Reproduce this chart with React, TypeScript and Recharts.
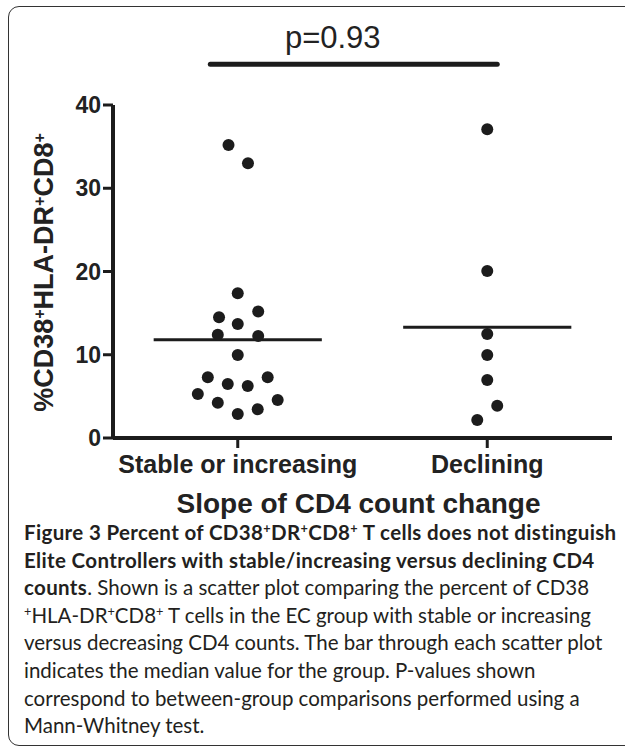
import React from 'react';
import { ScatterChart, Scatter, XAxis, YAxis, ReferenceLine, Label } from 'recharts';

const GROUPS = ['Stable or increasing', 'Declining'];

// stable / increasing group (x = jitter around category 1)
const STABLE_X = [0.963, 1.041, 1.0, 0.925, 1.082, 1.0, 0.92, 1.082, 1.0, 0.88, 1.12, 0.96, 1.04, 0.84, 1.16, 0.92, 1.08, 1.0];
const STABLE_Y = [35.2, 33.0, 17.4, 14.5, 15.2, 13.7, 12.4, 12.25, 9.97, 7.29, 7.29, 6.49, 6.25, 5.29, 4.56, 4.24, 3.44, 2.88];

// declining group (around category 2)
const DECLINING_X = [2.0, 2.0, 2.0, 2.0, 2.0, 2.04, 1.96];
const DECLINING_Y = [37.1, 20.06, 12.5, 9.97, 6.97, 3.88, 2.16];

const MEDIANS = [11.8, 13.3];
const Y_TICKS = [0, 10, 20, 30, 40];
const X_TICKS = [1, 2];
const P_VALUE = 'p=0.93';

const FONT = '"Liberation Sans", Arial, Helvetica, sans-serif';
const INK = '#1c1c1c';
const MEDIAN_HALF = 0.337;

const stableData = STABLE_Y.map((y, i) => ({ x: STABLE_X[i], y }));
const decliningData = DECLINING_Y.map((y, i) => ({ x: DECLINING_X[i], y }));

const Dot = (props: any) => <circle cx={props.cx} cy={props.cy} r={6} fill={INK} />;

const YLabel = (props: any) => {
  const vb = props.viewBox || {};
  const cx = 53;
  const cy = vb.y + vb.height / 2 + 1;
  const sup = { baselineShift: 'super', fontSize: 16 } as any;
  return (
    <text
      x={cx}
      y={cy}
      transform={`rotate(-90, ${cx}, ${cy})`}
      textAnchor="middle"
      fontFamily={FONT}
      fontWeight={700}
      fontSize={27}
      fill="#222"
    >
      %CD38<tspan style={sup}>+</tspan>HLA-DR<tspan style={sup}>+</tspan>CD8<tspan style={sup}>+</tspan>
    </text>
  );
};

const captionLine: React.CSSProperties = { whiteSpace: 'nowrap', height: 27.6 };
const bold: React.CSSProperties = { fontWeight: 700, letterSpacing: 0.35 };
const s = (t: string) => <sup style={{ fontSize: '0.62em', verticalAlign: '0.55em', lineHeight: 0 }}>{t}</sup>;

export default function App() {
  return (
    <div style={{ position: 'fixed', left: 0, top: 0, width: 625, height: 748, overflow: 'hidden', background: '#fff' }}>
      <div
        style={{
          position: 'absolute',
          left: 8,
          top: 6,
          width: 700,
          height: 740,
          boxSizing: 'border-box',
          border: '1.5px solid #333',
          borderRadius: 11,
        }}
      />
      <div style={{ position: 'absolute', left: 0, top: 0 }}>
        <ScatterChart
          width={625}
          height={560}
          margin={{ top: 105, right: 13, bottom: 82, left: 53 }}
          style={{ fontFamily: FONT }}
        >
          <XAxis
            dataKey="x"
            type="number"
            domain={[0.5, 2.5]}
            ticks={X_TICKS}
            interval={0}
            tickFormatter={(v: number) => GROUPS[v - 1]}
            height={40}
            tickSize={10}
            tickMargin={7}
            axisLine={{ stroke: INK, strokeWidth: 4 }}
            tickLine={{ stroke: INK, strokeWidth: 3 }}
            tick={{ fontSize: 25, fontWeight: 700, fill: '#222', fontFamily: FONT }}
          >
            <Label
              value="Slope of CD4 count change"
              position="bottom"
              offset={15}
              dx={-4}
              style={{ fontSize: 28, fontWeight: 700, fill: '#222', fontFamily: FONT }}
            />
          </XAxis>
          <YAxis
            dataKey="y"
            type="number"
            domain={[0, 40]}
            ticks={Y_TICKS}
            interval={0}
            width={60}
            tickSize={10}
            tickMargin={2}
            axisLine={{ stroke: INK, strokeWidth: 4 }}
            tickLine={{ stroke: INK, strokeWidth: 3 }}
            tick={{ fontSize: 23, fontWeight: 700, fill: '#222', fontFamily: FONT }}
            label={<YLabel />}
          />
          {MEDIANS.map((m, i) => (
            <ReferenceLine
              key={i}
              segment={[
                { x: i + 1 - MEDIAN_HALF, y: m },
                { x: i + 1 + MEDIAN_HALF, y: m },
              ]}
              stroke={INK}
              strokeWidth={3}
              ifOverflow="visible"
            />
          ))}
          <ReferenceLine
            segment={[
              { x: 0.89, y: 44.9 },
              { x: 2.04, y: 44.9 },
            ]}
            stroke={INK}
            strokeWidth={5}
            strokeLinecap="round"
            ifOverflow="visible"
            label={{ value: P_VALUE, position: 'top', offset: 16, dx: -21, fontSize: 31, fill: '#222', fontFamily: FONT }}
          />
          <Scatter data={stableData} shape={Dot} isAnimationActive={false} />
          <Scatter data={decliningData} shape={Dot} isAnimationActive={false} />
        </ScatterChart>
      </div>
      <div
        style={{
          position: 'absolute',
          left: 24,
          top: 519,
          fontFamily: 'Lato, "Open Sans", sans-serif',
          fontSize: 20.5,
          lineHeight: '27.6px',
          color: '#231f20',
        }}
      >
        <div style={captionLine}>
          <span style={bold}>Figure 3 Percent of CD38{s('+')}DR{s('+')}CD8{s('+')} T cells does not distinguish</span>
        </div>
        <div style={captionLine}>
          <span style={bold}>Elite Controllers with stable/increasing versus declining CD4</span>
        </div>
        <div style={captionLine}>
          <span style={bold}>counts</span>. Shown is a scatter plot comparing the percent of CD38
        </div>
        <div style={captionLine}>
          {s('+')}HLA-DR{s('+')}CD8{s('+')} T cells in the EC group with stable or increasing
        </div>
        <div style={captionLine}>versus decreasing CD4 counts. The bar through each scatter plot</div>
        <div style={captionLine}>indicates the median value for the group. P-values shown</div>
        <div style={captionLine}>correspond to between-group comparisons performed using a</div>
        <div style={captionLine}>Mann-Whitney test.</div>
      </div>
    </div>
  );
}
